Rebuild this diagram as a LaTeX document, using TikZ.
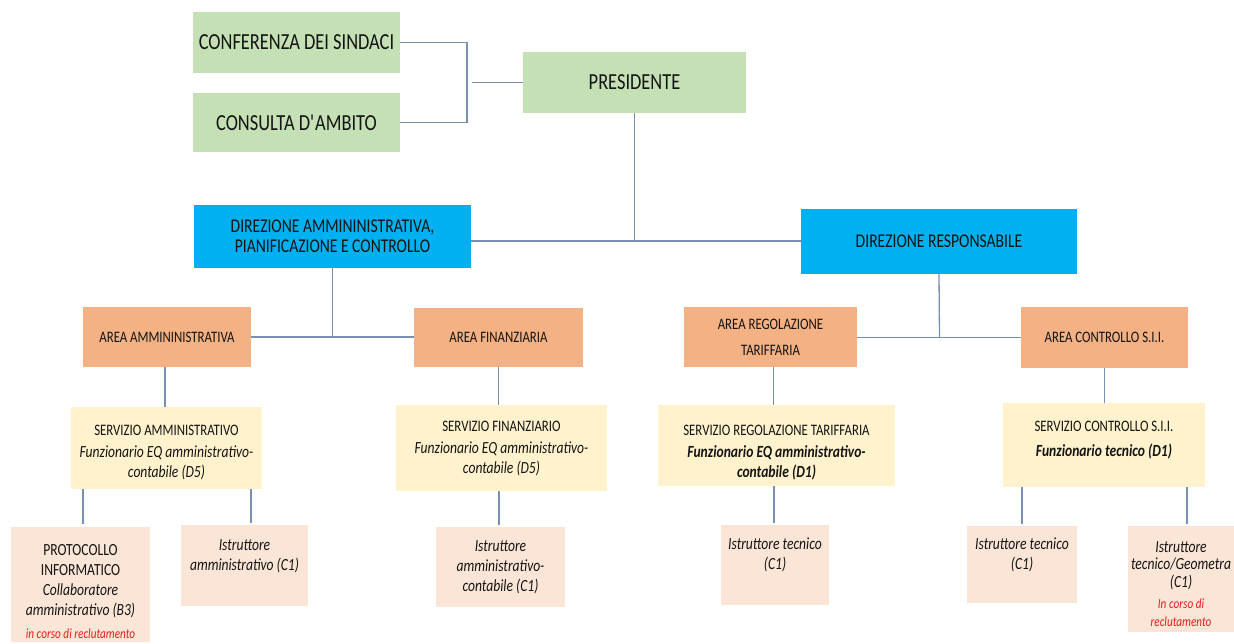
\documentclass[tikz,border=0pt]{standalone}
\usepackage{fontspec}
\setmainfont{Carlito}[FakeStretch=0.8]
\definecolor{cgreen}{HTML}{C5E0B4}
\definecolor{cblue}{HTML}{00B0F0}
\definecolor{corange}{HTML}{F4B183}
\definecolor{cyellow}{HTML}{FFF2CC}
\definecolor{cpink}{HTML}{FBE5D6}
\definecolor{cline}{HTML}{7890B2}
\definecolor{ctxt}{HTML}{141414}
\definecolor{cred}{HTML}{E02020}
\begin{document}
\begin{tikzpicture}[x=1pt,y=-1pt,
  box/.style={inner sep=0pt, outer sep=0pt, align=center, text=ctxt},
  gbox/.style={box, fill=cgreen, font=\fontsize{23}{27}\selectfont},
  bbox/.style={box, fill=cblue, font=\fontsize{19.5}{20}\selectfont},
  abox/.style={box, fill=corange, font=\fontsize{16}{26}\selectfont},
  sbox/.style={box, fill=cyellow, font=\fontsize{17}{19.5}\selectfont\itshape},
  ibox/.style={box, fill=cpink, font=\fontsize{17}{20}\selectfont\itshape},
  conn/.style={draw=cline, line width=1.3pt},
]
\useasboundingbox (0,0) rectangle (1234,643);
\clip (0,0) rectangle (1234,643);
\fill[white] (0,0) rectangle (1234,643);
\newcommand{\ttlfont}{\upshape\mdseries\fontsize{16}{19}\selectfont}
\newcommand{\redfont}{\color{cred}\fontsize{14}{17}\selectfont}
\newcommand{\dn}[1]{\rule{0pt}{#1}}

% top level
\node[gbox, minimum width=207pt, minimum height=61pt] (conf) at (296.5,42.5) {CONFERENZA DEI SINDACI};
\node[gbox, minimum width=207pt, minimum height=59pt] (cons) at (296.5,122.5) {CONSULTA D\textquotesingle AMBITO};
\node[gbox, minimum width=223pt, minimum height=61pt] (pres) at (634.5,82.5) {PRESIDENTE};

% direzioni
\node[bbox, minimum width=277pt, minimum height=63pt] (diramm) at (332.5,236.5) {DIREZIONE AMMININISTRATIVA,\\PIANIFICAZIONE E CONTROLLO};
\node[bbox, minimum width=276pt, minimum height=65pt] (dirresp) at (939,241.5) {DIREZIONE RESPONSABILE};

% aree
\node[abox, minimum width=168pt, minimum height=60pt] (areaamm) at (167,337) {AREA AMMININISTRATIVA};
\node[abox, minimum width=169pt, minimum height=59pt] (areafin) at (498.5,337.5) {AREA FINANZIARIA};
\node[abox, minimum width=173pt, minimum height=60pt] (areareg) at (770.5,337) {AREA REGOLAZIONE\\TARIFFARIA};
\node[abox, minimum width=167pt, minimum height=61pt] (areactr) at (1104.5,337.5) {AREA CONTROLLO S.I.I.};

% servizi
\node[sbox, minimum width=191pt, minimum height=82pt] (servamm) at (166.5,448) {{\ttlfont\dn{18.5pt}SERVIZIO AMMINISTRATIVO}\\[3pt]Funzionario EQ amministrativo-\\contabile (D5)};
\node[sbox, minimum width=211pt, minimum height=86pt] (servfin) at (501.5,448) {{\ttlfont SERVIZIO FINANZIARIO}\\[3pt]Funzionario EQ amministrativo-\\contabile (D5)};
\node[sbox, minimum width=237pt, minimum height=81pt] (servreg) at (776.5,445.5) {{\ttlfont\dn{24pt}SERVIZIO REGOLAZIONE TARIFFARIA}\\[3pt]\bfseries Funzionario EQ amministrativo-\\\bfseries contabile (D1)};
\node[sbox, minimum width=202pt, minimum height=84pt, text depth=12pt] (servctr) at (1104,445) {{\ttlfont SERVIZIO CONTROLLO S.I.I.}\\[6pt]\bfseries Funzionario tecnico (D1)};

% istruttori
\node[ibox, minimum width=139pt, minimum height=115pt] (prot) at (80.5,584.5) {\upshape\dn{25pt}PROTOCOLLO\\\upshape INFORMATICO\\Collaboratore\\amministrativo (B3)\\[3pt]{\redfont in corso di reclutamento}};
\node[ibox, minimum width=127pt, minimum height=81pt, text depth=20pt] (istramm) at (244.5,565.5) {Istruttore\\amministrativo (C1)};
\node[ibox, minimum width=129pt, minimum height=80pt] (istrfin) at (500.5,567) {Istruttore\\amministrativo-\\contabile (C1)};
\node[ibox, minimum width=108pt, minimum height=80pt, text depth=22pt] (istrreg) at (775,565) {Istruttore tecnico\\(C1)};
\node[ibox, minimum width=110pt, minimum height=77pt, text depth=22pt] (istrctr) at (1022,564.5) {Istruttore tecnico\\(C1)};
\node[ibox, minimum width=106pt, minimum height=106pt, font=\fontsize{17}{17.5}\selectfont\itshape] (istrgeo) at (1181,579) {\dn{21pt}Istruttore\\tecnico/Geometra\\(C1)\\[4pt]{\redfont In corso di}\\{\redfont reclutamento}};

% connectors: top bracket
\coordinate (jbr) at (467,82.5);
\coordinate (jpr) at (472,82.5);
\draw[conn] (conf.east) -| (jbr);
\draw[conn] (cons.east) -| (jbr);
\draw[conn] (jpr) -- (pres.west);

% presidente to direzioni
\coordinate (jdir) at (634.5,241);
\draw[conn] (pres.south) -- (jdir);
\draw[conn] (diramm.east |- jdir) -- (dirresp.west |- jdir);

% direzioni to aree
\coordinate (ja1) at (332.5,337);
\draw[conn] (diramm.south) -- (ja1);
\draw[conn] (areaamm.east) -- (areafin.west |- areaamm.east);
\coordinate (ja2) at (939.5,337.5);
\draw[conn] (dirresp.south) -- (ja2);
\draw[conn] (areareg.east |- ja2) -- (areactr.west |- ja2);

% aree to servizi
\draw[conn] ([xshift=-2pt]areaamm.south) -- ([xshift=-2pt]areaamm.south |- servamm.north);
\draw[conn] (areafin.south) -- (areafin.south |- servfin.north);
\draw[conn] ([xshift=3pt]areareg.south) -- ([xshift=3pt]areareg.south |- servreg.north);
\draw[conn] (areactr.south) -- (areactr.south |- servctr.north);

% servizi to istruttori
\draw[conn, shorten >=3pt] ([xshift=2.5pt]prot.north |- servamm.south) -- ([xshift=2.5pt]prot.north);
\draw[conn, shorten >=2pt] ([xshift=6.5pt]istramm.north |- servamm.south) -- ([xshift=6.5pt]istramm.north);
\draw[conn, shorten >=2pt] ([xshift=-1.5pt]istrfin.north |- servfin.south) -- ([xshift=-1.5pt]istrfin.north);
\draw[conn, shorten >=2pt] ([xshift=-1pt]istrreg.north |- servreg.south) -- ([xshift=-1pt]istrreg.north);
\draw[conn, shorten >=2pt] (istrctr.north |- servctr.south) -- (istrctr.north);
\draw[conn, shorten >=2pt] ([xshift=6pt]istrgeo.north |- servctr.south) -- ([xshift=6pt]istrgeo.north);
\end{tikzpicture}
\end{document}
